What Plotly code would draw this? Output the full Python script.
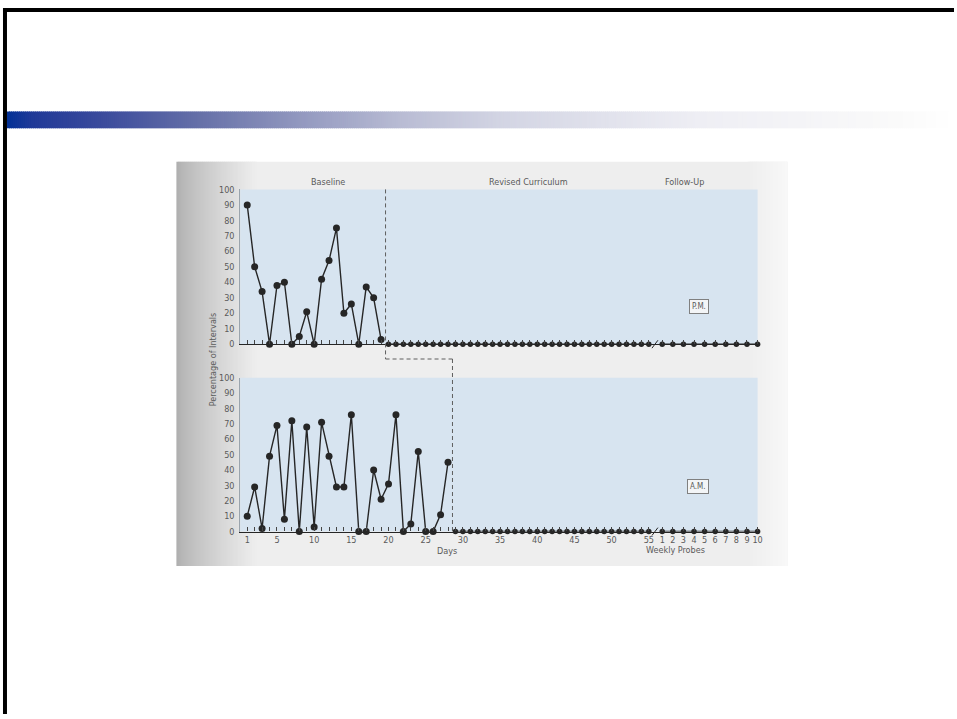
import plotly.graph_objects as go

# ---------------- data ----------------
pm_baseline_days = list(range(1, 20))
pm_baseline = [90, 50, 34, 0, 38, 40, 0, 5, 21, 0, 42, 54, 75, 20, 26, 0, 37, 30, 3]
pm_treatment_days = list(range(20, 56))
pm_treatment = [0, 0, 0, 0, 0, 0, 0, 0, 0, 0, 0, 0, 0, 0, 0, 0, 0, 0,
                0, 0, 0, 0, 0, 0, 0, 0, 0, 0, 0, 0, 0, 0, 0, 0, 0, 0]

am_baseline_days = list(range(1, 29))
am_baseline = [10, 29, 2, 49, 69, 8, 72, 0, 68, 3, 71, 49, 29, 29, 76, 0, 0,
               40, 21, 31, 76, 0, 5, 52, 0, 0, 11, 45]
am_treatment_days = list(range(29, 56))
am_treatment = [0, 0, 0, 0, 0, 0, 0, 0, 0, 0, 0, 0, 0, 0, 0, 0, 0, 0,
                0, 0, 0, 0, 0, 0, 0, 0, 0]

probe_weeks = [1, 2, 3, 4, 5, 6, 7, 8, 9, 10]
pm_probes = [0, 0, 0, 0, 0, 0, 0, 0, 0, 0]
am_probes = [0, 0, 0, 0, 0, 0, 0, 0, 0, 0]

day_ticks = list(range(1, 56))
day_labels = [str(d) if (d == 1 or d % 5 == 0) else "" for d in day_ticks]
y_ticks = [0, 10, 20, 30, 40, 50, 60, 70, 80, 90, 100]

pm_phase_change = 19.6
am_phase_change = 28.6

# ---------------- page geometry (pixels) ----------------
W, H = 957, 719


def fx(p):
    return p / W


def fy(p):
    return 1 - p / H


AX_L, AX_BREAK, AX_R = 241, 657, 762
TOP_Y0, TOP_Y100 = 344, 187
BOT_Y0, BOT_Y100 = 534, 378
DAY_PX1, DAY_STEP = 248.0, 7.46
PROBE_PX1, PROBE_STEP = 664.3, 10.63

day_range = [1 + (AX_L - DAY_PX1) / DAY_STEP, 1 + (AX_BREAK - DAY_PX1) / DAY_STEP]
probe_range = [1 + (AX_BREAK - PROBE_PX1) / PROBE_STEP, 1 + (AX_R - PROBE_PX1) / PROBE_STEP]

FONT = "Liberation Sans Narrow, DejaVu Sans Condensed, Arial Narrow, sans-serif"
TXT = "#5a5a5a"
INK = "#262626"
SHADE = "#d7e4f0"

fig = go.Figure()


def series(x, y, xa, ya, msize):
    fig.add_trace(go.Scatter(
        x=x, y=y, xaxis=xa, yaxis=ya, mode="lines+markers",
        line=dict(color=INK, width=1.4),
        marker=dict(color=INK, size=msize),
        cliponaxis=False, hoverinfo="x+y", showlegend=False))


# P.M. panel
series(pm_baseline_days, pm_baseline, "x", "y", 7)
series(pm_treatment_days, pm_treatment, "x", "y", 5.5)
series(probe_weeks, pm_probes, "x2", "y", 5.5)
# A.M. panel
series(am_baseline_days, am_baseline, "x3", "y2", 7)
series(am_treatment_days, am_treatment, "x3", "y2", 5.5)
series(probe_weeks, am_probes, "x4", "y2", 5.5)

shapes = []


def prect(x0, x1, y0, y1, color):
    shapes.append(dict(type="rect", xref="paper", yref="paper", x0=fx(x0), x1=fx(x1),
                       y0=fy(y0), y1=fy(y1), fillcolor=color, line=dict(width=0), layer="below"))


# slide frame
prect(3, W, 3, 7, "black")
prect(3, 7, 3, H, "black")

# title band gradient
stops = [(5, (0, 48, 150)), (33, (33, 58, 152)), (100, (58, 74, 156)), (200, (102, 112, 168)),
         (300, (146, 152, 191)), (400, (184, 187, 211)), (500, (210, 212, 227)),
         (700, (238, 238, 244)), (900, (250, 250, 250)), (957, (255, 255, 255))]


def band_color(p):
    for (a, ca), (b, cb) in zip(stops[:-1], stops[1:]):
        if a <= p <= b:
            t = (p - a) / (b - a)
            return "rgb(%d,%d,%d)" % tuple(round(ca[i] + (cb[i] - ca[i]) * t) for i in range(3))
    return "rgb(255,255,255)"


# overlapping slices avoid hairline seams between steps
step = 2
for x0 in range(7, W, step):
    prect(x0, min(x0 + step + 1, W), 108, 125, band_color(x0 + step / 2))

# scanned figure card with shadowed left edge
prect(177, 790, 159, 569, "#eeeeee")
for i in range(40):
    x0 = 177 + i * 2
    g = round(176 + (237 - 176) * (i / 39) ** 0.8)
    prect(x0, x0 + 3, 159, 569, "rgb(%d,%d,%d)" % (g, g, g))
for i in range(20):
    x0 = 750 + i * 2
    g = round(238 + (248 - 238) * (i / 19))
    prect(x0, min(x0 + 3, 790), 159, 569, "rgb(%d,%d,%d)" % (g, g, g))

# shaded plotting areas
prect(AX_L, 760, TOP_Y0, TOP_Y100, SHADE)
prect(AX_L, 760, BOT_Y0, BOT_Y100, SHADE)

# phase-change line (stepped between panels)
step_y = fy(359)
dash = dict(color="#5e5e5e", width=1, dash="4px,3px")
shapes.append(dict(type="line", xref="x", yref="paper", x0=pm_phase_change, x1=pm_phase_change,
                   y0=fy(TOP_Y100), y1=step_y, line=dash))
shapes.append(dict(type="line", xref="x", yref="paper", x0=pm_phase_change, x1=am_phase_change,
                   y0=step_y, y1=step_y, line=dash))
shapes.append(dict(type="line", xref="x3", yref="paper", x0=am_phase_change, x1=am_phase_change,
                   y0=step_y, y1=fy(BOT_Y0), line=dash))

# axis break marks between days and weekly probes
for y_axis in (TOP_Y0, BOT_Y0):
    shapes.append(dict(type="line", xref="paper", yref="paper", x0=fx(654), x1=fx(660),
                       y0=fy(y_axis + 4), y1=fy(y_axis - 4), line=dict(color=INK, width=1)))

fig.update_layout(shapes=shapes)

tickfont = dict(family=FONT, size=9, color=TXT)
xcommon = dict(showgrid=False, zeroline=False, showline=True, linecolor=INK, linewidth=1.2,
               ticks="inside", ticklen=4, tickcolor="#444", tickwidth=1, tickfont=tickfont,
               fixedrange=True)
ycommon = dict(range=[0, 100], tickvals=y_ticks, showgrid=False, zeroline=False, showline=True,
               linecolor="#9aa4ad", linewidth=1, ticks="", tickfont=tickfont, ticklabelstandoff=3,
               fixedrange=True)

fig.update_layout(
    width=W, height=H, margin=dict(l=0, r=0, t=0, b=0),
    paper_bgcolor="white", plot_bgcolor="rgba(0,0,0,0)",
    xaxis=dict(domain=[fx(AX_L), fx(AX_BREAK)], range=day_range, anchor="y",
               tickvals=day_ticks, showticklabels=False, **xcommon),
    xaxis2=dict(domain=[fx(AX_BREAK), fx(AX_R)], range=probe_range, anchor="y",
                tickvals=probe_weeks, showticklabels=False, **xcommon),
    xaxis3=dict(domain=[fx(AX_L), fx(AX_BREAK)], range=day_range, anchor="y2",
                tickvals=day_ticks, ticktext=day_labels, **xcommon),
    xaxis4=dict(domain=[fx(AX_BREAK), fx(AX_R)], range=probe_range, anchor="y2",
                tickvals=probe_weeks, ticktext=[str(w) for w in probe_weeks], **xcommon),
    yaxis=dict(domain=[fy(TOP_Y0), fy(TOP_Y100)], anchor="x", **ycommon),
    yaxis2=dict(domain=[fy(BOT_Y0), fy(BOT_Y100)], anchor="x3", **ycommon),
)


def label(text, x, y, size=9, **kw):
    fig.add_annotation(text=text, xref="paper", yref="paper", x=fx(x), y=fy(y),
                       showarrow=False, font=dict(family=FONT, size=size, color=TXT), **kw)


label("Baseline", 310, 172)
label("Revised Curriculum", 530, 172)
label("Follow-Up", 708, 172)
label("Percentage of Intervals", 207, 359, textangle=-90)
label("Days", 448, 561)
label("Weekly Probes", 709, 560)
for txt, yy in [("P.M.", 306), ("A.M.", 496)]:
    fig.add_annotation(text=txt, xref="paper", yref="paper", x=fx(711), y=fy(yy), showarrow=False,
                       font=dict(family=FONT, size=8, color=TXT), bgcolor="#f3f5f7",
                       bordercolor="#808080", borderwidth=1, borderpad=2)

fig.write_html("out.html")
